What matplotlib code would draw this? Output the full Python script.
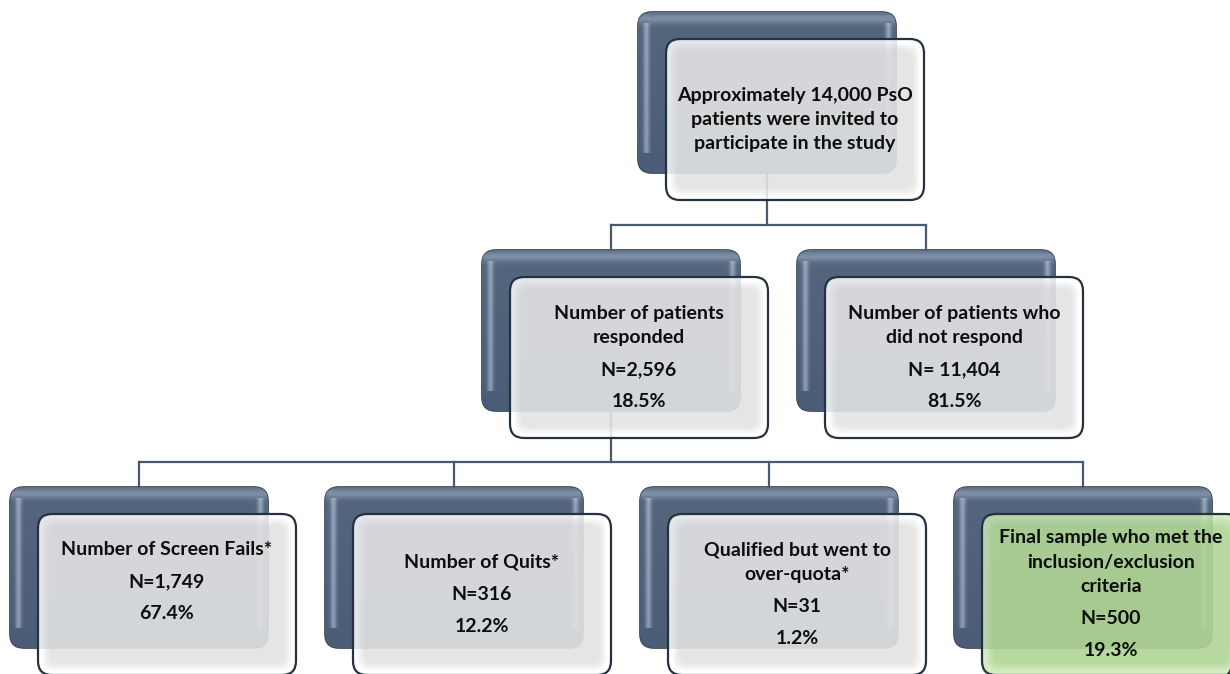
import numpy as np
import matplotlib
matplotlib.use("Agg")
import matplotlib.pyplot as plt
from matplotlib.patches import FancyBboxPatch

plt.rcParams['font.family'] = ['Lato', 'DejaVu Sans']

# Box texts (title lines, count, share)
titles = [
    ["Approximately 14,000 PsO", "patients were invited to", "participate in the study"],
    ["Number of patients", "responded"],
    ["Number of patients who", "did not respond"],
    ["Number of Screen Fails*"],
    ["Number of Quits*"],
    ["Qualified but went to", "over-quota*"],
    ["Final sample who met the", "inclusion/exclusion", "criteria"],
]
counts = ["", "N=2,596", "N= 11,404", "N=1,749", "N=316", "N=31", "N=500"]
shares = ["", "18.5%", "81.5%", "67.4%", "12.2%", "1.2%", "19.3%"]
parents = [None, 0, 0, 1, 1, 1, 1]
highlight = [False, False, False, False, False, False, True]

# Layout (pixels, back box top-left)
box_x = [638, 482, 797, 10, 325, 640, 954]
box_y = [12, 250, 250, 487, 487, 487, 487]
text_shift = [0, 0, 0, -13, 0, 0, 0]
W, H, OFF_X, OFF_Y, R = 258, 161, 28, 27, 14
LINE_COL = '#4a5a6e'

fig = plt.figure(figsize=(12.3, 6.74), dpi=100)
ax = fig.add_axes([0, 0, 1, 1])
ax.set_xlim(0, 1230)
ax.set_ylim(674, 0)
ax.axis('off')


def rbox(x, y, w, h, r, **kw):
    p = FancyBboxPatch((x + r, y + r), w - 2 * r, h - 2 * r,
                       boxstyle=f"round,pad={r}", **kw)
    ax.add_patch(p)
    return p


def back_box(x, y):
    p = rbox(x, y, W, H, R, fc='#4b5d76', ec='#2f3d4e', lw=1.2, zorder=1)
    # bevel shading as an image clipped to the box
    xs = np.arange(W)[None, :].astype(float)
    ys = np.arange(H)[:, None].astype(float)
    dx = np.minimum(xs, W - xs)
    hl = np.exp(-((dx - 8) / 3.0) ** 2) * (ys > 10) * (ys < H - 20)
    top = np.exp(-((ys - 6) / 5.0) ** 2) * 0.5
    base = np.array([0x4b, 0x5d, 0x76]) / 255.0
    light = np.array([0x9d, 0xae, 0xc2]) / 255.0
    t = np.clip(hl * 0.75 + top + (1 - ys / H) * 0.12, 0, 1)
    img = base[None, None, :] * (1 - t[..., None]) + light[None, None, :] * t[..., None]
    im = ax.imshow(img, extent=(x, x + W, y + H, y), zorder=1.1,
                   interpolation='bilinear')
    im.set_clip_path(p)


def front_box(x, y, green):
    if green:
        fc, inner = '#cde8b6', '#92c470'
    else:
        fc, inner = '#ffffff', '#c4c4c6'
    rbox(x, y, W, H, R, fc=fc, alpha=0.84, ec='none', zorder=3)
    for k, ins in enumerate([5, 7, 9, 11]):
        rbox(x + ins, y + ins, W - 2 * ins, H - 2 * ins, R - 3,
             fc=inner, alpha=0.12, ec='none', zorder=3.1 + k * 0.01)
    rbox(x, y, W, H, R, fc='none', ec='#26323f', lw=1.6, zorder=3.5)


# connectors
for lvl_parent in set(p for p in parents if p is not None):
    kids = [i for i, p in enumerate(parents) if p == lvl_parent]
    px = box_x[lvl_parent] + W / 2
    py = box_y[lvl_parent] + H
    cy = box_y[kids[0]]
    mid = cy - 25
    ax.plot([px, px], [py, mid], color=LINE_COL, lw=1.6, zorder=2)
    kx = [box_x[k] + W / 2 for k in kids]
    ax.plot([min(kx), max(kx)], [mid, mid], color=LINE_COL, lw=1.6, zorder=2)
    for k in kx:
        ax.plot([k, k], [mid, cy], color=LINE_COL, lw=1.6, zorder=2)

for i in range(len(titles)):
    back_box(box_x[i], box_y[i])
    fx, fy = box_x[i] + OFF_X, box_y[i] + OFF_Y
    front_box(fx, fy, highlight[i])
    lines = [(t, 0 if j == 0 else 24.5) for j, t in enumerate(titles[i])]
    if counts[i]:
        lines.append((counts[i], 32))
        lines.append((shares[i], 32))
    pos = np.cumsum([g for _, g in lines])
    cy = fy + H / 2 + text_shift[i] - pos[-1] / 2
    for (t, _), p in zip(lines, pos):
        ax.text(fx + W / 2, cy + p, t, ha='center', va='center',
                fontsize=14, fontweight='bold', color='#0d0d0d', zorder=5)

fig.savefig('out.png', dpi=100)
